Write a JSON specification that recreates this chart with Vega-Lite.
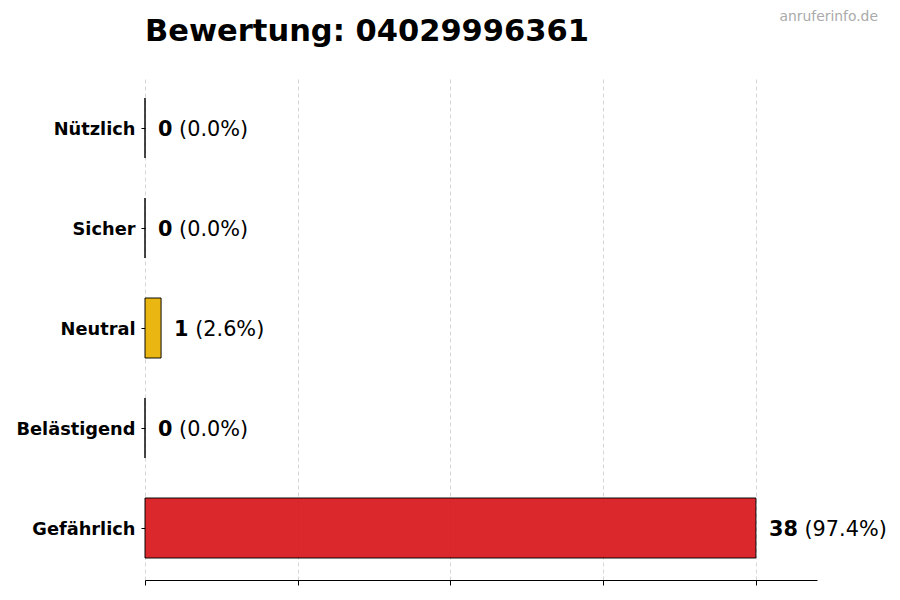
{
  "$schema": "https://vega.github.io/schema/vega-lite/v6.json",
  "autosize": {"type": "none"},
  "padding": {"left": 145, "top": 76, "right": 83, "bottom": 20},
  "width": 672,
  "height": 504,
  "background": "white",
  "title": {
    "text": "Bewertung: 04029996361",
    "anchor": "start",
    "frame": "group",
    "font": "DejaVu Sans",
    "fontSize": 30.5,
    "fontWeight": "bold",
    "color": "black",
    "baseline": "top",
    "offset": -37
  },
  "datasets": {
    "ratings": [
      {"category": "Nützlich", "count": 0, "pct": "(0.0%)"},
      {"category": "Sicher", "count": 0, "pct": "(0.0%)"},
      {"category": "Neutral", "count": 1, "pct": "(2.6%)"},
      {"category": "Belästigend", "count": 0, "pct": "(0.0%)"},
      {"category": "Gefährlich", "count": 38, "pct": "(97.4%)"}
    ],
    "source": [
      {"site": "anruferinfo.de"}
    ]
  },
  "layer": [
    {
      "data": {"name": "ratings"},
      "mark": {"type": "bar", "stroke": "black", "strokeWidth": 1, "fillOpacity": 0.93, "strokeOpacity": 0.95},
      "encoding": {
        "y": {
          "field": "category",
          "type": "nominal",
          "sort": ["Nützlich", "Sicher", "Neutral", "Belästigend", "Gefährlich"],
          "scale": {"paddingInner": 0.4, "paddingOuter": 0.22},
          "axis": {
            "title": null,
            "domain": false,
            "ticks": true,
            "tickColor": "black",
            "tickSize": 4,
            "labelFont": "DejaVu Sans",
            "labelFontSize": 17.8,
            "labelFontWeight": "bold",
            "labelColor": "black",
            "labelPadding": 6,
            "labelOffset": 1.5,
            "grid": false
          }
        },
        "x": {
          "field": "count",
          "type": "quantitative",
          "scale": {"domain": [0, 41.8], "nice": false, "zero": true},
          "axis": {
            "title": null,
            "values": [0, 9.5, 19, 28.5, 38],
            "labels": false,
            "grid": true,
            "gridColor": "#cccccc",
            "gridDash": [4, 3],
            "gridWidth": 0.8,
            "domain": true,
            "domainColor": "black",
            "domainWidth": 1,
            "tickColor": "black",
            "tickSize": 5
          }
        },
        "color": {
          "field": "category",
          "type": "nominal",
          "scale": {
            "domain": ["Nützlich", "Sicher", "Neutral", "Belästigend", "Gefährlich"],
            "range": ["#16a34a", "#2563eb", "#e8b000", "#f97316", "#d8181c"]
          },
          "legend": null
        }
      }
    },
    {
      "data": {"name": "ratings"},
      "mark": {
        "type": "text",
        "align": "left",
        "baseline": "middle",
        "dx": 13,
        "dy": 1.5,
        "font": "DejaVu Sans",
        "fontSize": 20.8,
        "fontWeight": "bold",
        "color": "black"
      },
      "encoding": {
        "y": {"field": "category", "type": "nominal", "sort": ["Nützlich", "Sicher", "Neutral", "Belästigend", "Gefährlich"]},
        "x": {"field": "count", "type": "quantitative"},
        "text": {"field": "count", "type": "quantitative"}
      }
    },
    {
      "data": {"name": "ratings"},
      "mark": {
        "type": "text",
        "align": "left",
        "baseline": "middle",
        "dx": {"expr": "19.6 + length(toString(datum.count)) * 14.5"},
        "dy": 1.5,
        "font": "DejaVu Sans",
        "fontSize": 20.8,
        "color": "black"
      },
      "encoding": {
        "y": {"field": "category", "type": "nominal", "sort": ["Nützlich", "Sicher", "Neutral", "Belästigend", "Gefährlich"]},
        "x": {"field": "count", "type": "quantitative"},
        "text": {"field": "pct", "type": "nominal"}
      }
    },
    {
      "data": {"name": "source"},
      "mark": {
        "type": "text",
        "align": "right",
        "baseline": "middle",
        "dx": 61,
        "dy": -59,
        "font": "DejaVu Sans",
        "fontSize": 13.9,
        "color": "#aaaaaa"
      },
      "encoding": {
        "x": {"value": "width"},
        "y": {"value": 0},
        "text": {"field": "site", "type": "nominal"}
      }
    }
  ],
  "config": {
    "view": {"stroke": null}
  }
}
